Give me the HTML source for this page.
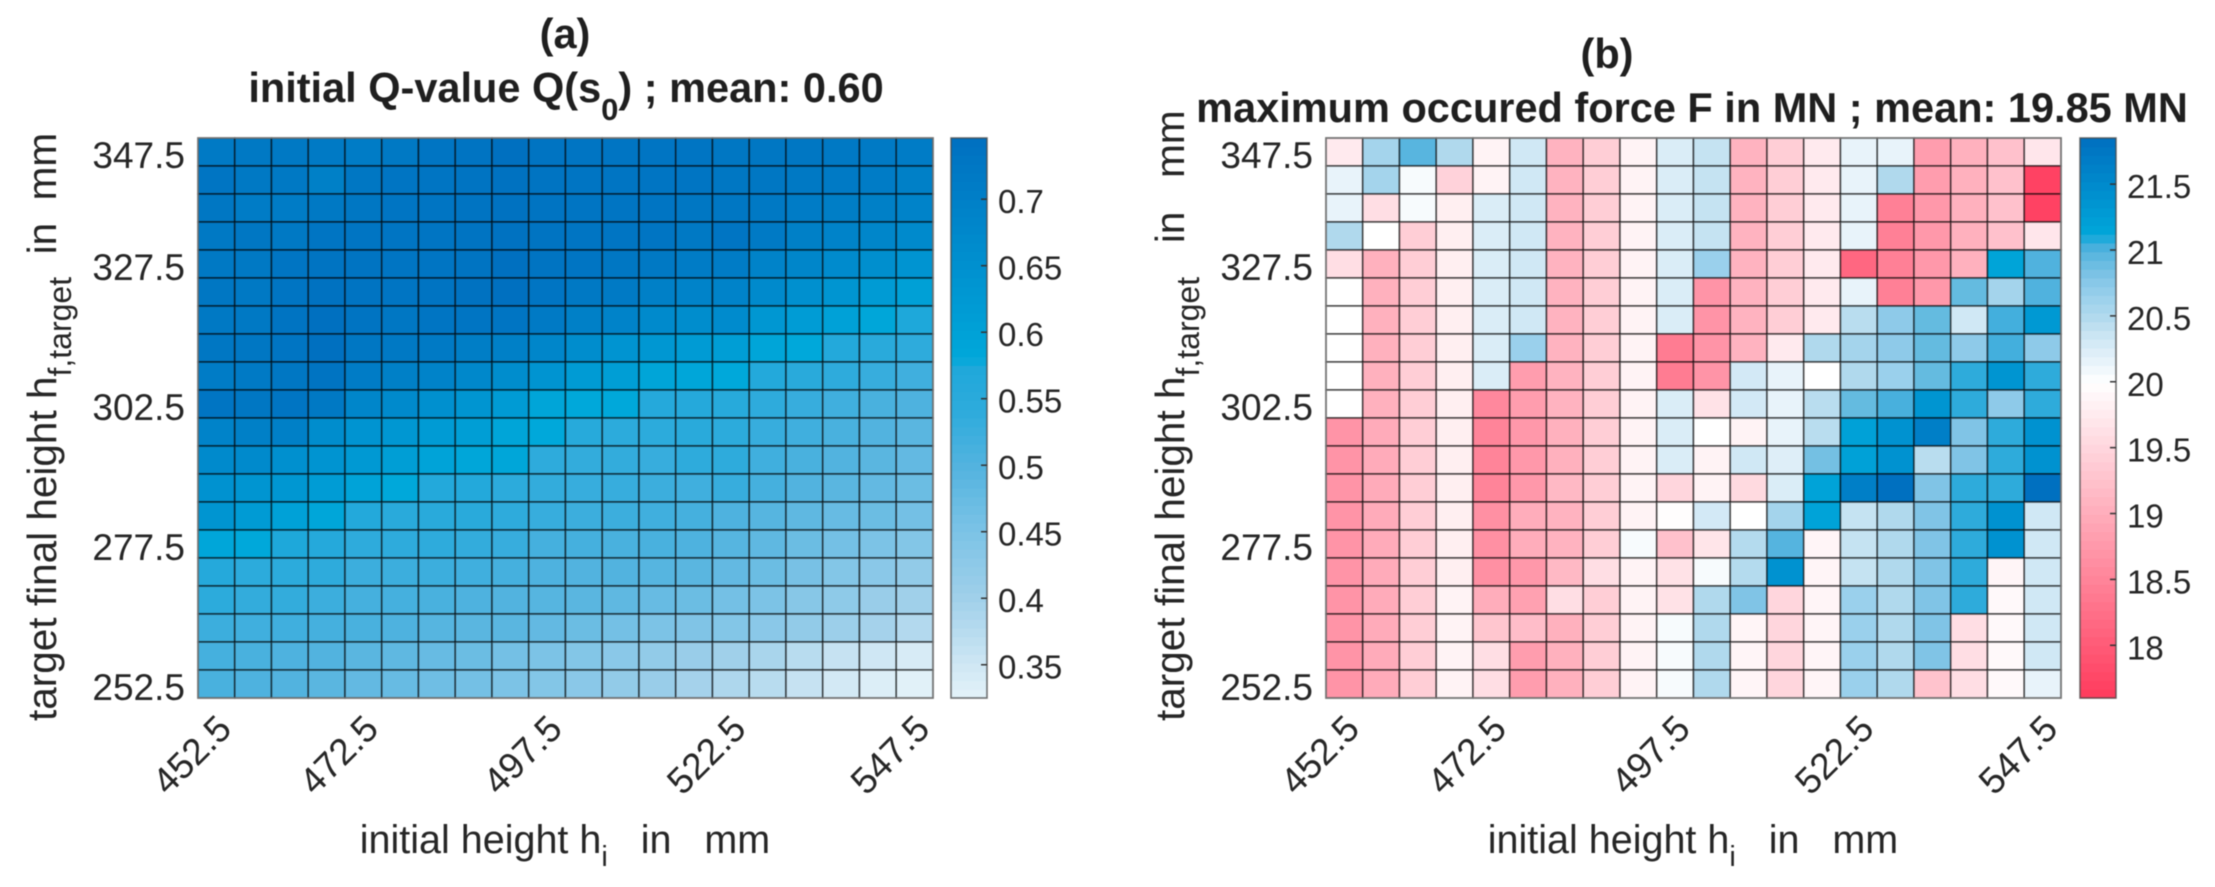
<!DOCTYPE html>
<html lang="en">
<head>
<meta charset="utf-8">
<title>Q-value and maximum force heatmaps</title>
<style>
html,body{margin:0;padding:0;background:#fff;width:2215px;height:887px;overflow:hidden}
svg{display:block;filter:blur(0.5px)}
text{font-family:"Liberation Sans",Arial,sans-serif;fill:#262626}
.tt{font-weight:bold;font-size:41.5px;fill:#1f1f1f}
.tick{font-size:37px}
.cbt{font-size:33px}
.lab{font-size:39.5px}
.laby{font-size:40.5px}
</style>
</head>
<body>
<svg id="fig" xmlns="http://www.w3.org/2000/svg" width="2215" height="887" viewBox="0 0 2215 887">
  <rect x="0" y="0" width="2215" height="887" fill="#fff"/>

  <text class="tt" x="565" y="48" text-anchor="middle">(a)</text>
  <text class="tt" x="566" y="102" text-anchor="middle">initial Q-value Q(s<tspan dy="18" font-size="31">0</tspan><tspan dy="-18">) ; mean: 0.60</tspan></text>

  <text class="tt" x="1607" y="68" text-anchor="middle">(b)</text>
  <text class="tt" x="1692" y="122" text-anchor="middle">maximum occured force F in MN ; mean: 19.85 MN</text>

  <text class="lab" x="565" y="853" text-anchor="middle" xml:space="preserve">initial height h<tspan dy="13" font-size="29">i</tspan><tspan dy="-13">   in   mm</tspan></text>
  <text class="lab" x="1693" y="853" text-anchor="middle" xml:space="preserve">initial height h<tspan dy="13" font-size="29">i</tspan><tspan dy="-13">   in   mm</tspan></text>

  <text class="laby" transform="translate(56,721) rotate(-90)" xml:space="preserve">target final height h<tspan dy="15" font-size="32">f,target</tspan><tspan dy="-15">  in  mm</tspan></text>
  <text class="laby" transform="translate(1184,721) rotate(-90)" xml:space="preserve">target final height h<tspan dy="15" font-size="32">f,target</tspan><tspan dy="-15">   in   mm</tspan></text>

  <g id="panelA"></g>
  <g id="panelB"></g>
</svg>

<script>
const xTickLabels = ["452.5","472.5","497.5","522.5","547.5"];
const xTickIndex = [0,4,9,14,19];
const yTickLabels = ["347.5","327.5","302.5","277.5","252.5"];
const yTickIndex = [0,4,9,14,19];

const qTicks = [0.7,0.65,0.6,0.55,0.5,0.45,0.4,0.35];
const qTickLabels = ["0.7","0.65","0.6","0.55","0.5","0.45","0.4","0.35"];
const forceTicks = [21.5,21,20.5,20,19.5,19,18.5,18];
const forceTickLabels = ["21.5","21","20.5","20","19.5","19","18.5","18"];

const qRange = [0.325,0.746];
const forceRange = [17.6,21.85];

const qValues = [
[.715,.72,.72,.715,.71,.72,.73,.735,.745,.735,.73,.73,.73,.73,.725,.725,.725,.72,.715,.71],
[.73,.72,.72,.70,.725,.73,.73,.735,.74,.735,.73,.73,.73,.73,.725,.725,.72,.715,.71,.70],
[.725,.71,.71,.72,.725,.73,.73,.735,.74,.735,.73,.73,.73,.725,.725,.72,.71,.705,.70,.69],
[.72,.725,.72,.73,.73,.73,.73,.735,.74,.735,.73,.73,.73,.72,.73,.715,.70,.69,.68,.67],
[.72,.72,.73,.735,.735,.73,.73,.735,.745,.735,.73,.725,.72,.71,.71,.69,.68,.665,.655,.64],
[.725,.72,.73,.74,.735,.73,.735,.74,.745,.73,.72,.715,.70,.69,.69,.67,.65,.635,.62,.605],
[.72,.72,.735,.745,.735,.725,.73,.73,.73,.715,.70,.69,.67,.66,.665,.63,.615,.60,.585,.575],
[.725,.725,.73,.745,.725,.72,.715,.705,.70,.68,.66,.64,.63,.62,.61,.59,.58,.565,.55,.54],
[.71,.715,.725,.735,.71,.70,.69,.675,.66,.64,.62,.61,.59,.585,.58,.565,.55,.54,.53,.52],
[.73,.725,.73,.72,.68,.67,.65,.635,.62,.59,.58,.58,.56,.56,.555,.54,.53,.52,.51,.505],
[.69,.70,.70,.66,.64,.63,.62,.61,.59,.58,.555,.545,.545,.55,.545,.53,.52,.51,.50,.49],
[.67,.67,.65,.64,.625,.61,.595,.585,.585,.54,.535,.535,.53,.54,.54,.52,.51,.50,.49,.48],
[.645,.635,.63,.615,.595,.58,.565,.565,.545,.535,.53,.53,.525,.52,.53,.515,.50,.49,.48,.47],
[.635,.62,.60,.585,.565,.55,.55,.55,.54,.53,.525,.525,.52,.515,.505,.495,.485,.475,.47,.46],
[.585,.58,.575,.56,.54,.54,.54,.535,.53,.515,.515,.51,.51,.505,.495,.485,.47,.46,.45,.44],
[.56,.545,.545,.54,.525,.525,.525,.52,.515,.505,.50,.50,.495,.49,.48,.47,.455,.44,.43,.42],
[.545,.535,.535,.525,.515,.515,.51,.505,.50,.495,.49,.485,.475,.47,.46,.45,.435,.425,.41,.40],
[.525,.52,.52,.515,.51,.505,.495,.49,.49,.48,.47,.46,.45,.445,.44,.43,.42,.405,.395,.38],
[.515,.51,.505,.50,.49,.485,.475,.47,.46,.45,.44,.43,.42,.41,.40,.39,.375,.36,.35,.34],
[.51,.505,.50,.49,.48,.475,.465,.46,.45,.44,.43,.42,.41,.395,.385,.375,.36,.345,.335,.328]
];

const forceValues = [
[19.75,20.58,20.97,20.5,19.85,20.32,19.07,19.4,19.85,20.25,20.38,19.07,19.4,19.75,20.15,20.15,18.8,19.05,19.25,19.7],
[20.15,20.58,20.05,19.45,19.85,20.32,19.07,19.4,19.85,20.25,20.38,19.07,19.4,19.75,20.15,20.5,18.8,19.05,19.25,17.7],
[20.15,19.6,20.05,19.8,20.25,20.32,19.07,19.4,19.85,20.25,20.38,19.07,19.4,19.75,20.15,18.45,18.75,19.05,19.25,17.7],
[20.5,20,19.4,19.8,20.25,20.32,19.07,19.4,19.85,20.25,20.38,19.07,19.4,19.75,20.15,18.45,18.75,19.05,19.25,19.7],
[19.6,19.05,19.4,19.8,20.25,20.32,19.07,19.4,19.85,20.25,20.65,19.07,19.4,19.75,18.15,18.45,18.75,19.05,21.15,21.0],
[20,19.05,19.4,19.8,20.25,20.32,19.07,19.4,19.85,20.25,18.7,19.07,19.4,19.75,20.15,18.45,18.75,20.92,20.58,21.0],
[20,19.05,19.4,19.8,20.25,20.32,19.07,19.4,19.85,20.25,18.7,19.07,19.4,19.75,20.45,20.72,20.92,20.32,21.03,21.3],
[20,19.05,19.4,19.8,20.25,20.65,19.07,19.4,19.85,18.4,18.7,19.07,19.75,20.5,20.58,20.72,20.92,20.72,21.03,20.72],
[20,19.05,19.4,19.8,20.25,18.8,19.07,19.4,19.85,18.4,18.7,20.3,20.15,20,20.5,20.65,20.92,21.08,21.35,21.08],
[20,19.05,19.4,19.8,18.55,18.8,19.07,19.4,19.85,20.25,19.65,20.3,20.15,20.45,20.92,21.02,21.35,21.08,20.72,21.08],
[18.7,18.98,19.4,19.8,18.5,18.75,19.05,19.4,19.85,20.25,20,19.85,20.15,20.45,21.2,21.4,21.65,20.8,21.08,21.4],
[18.7,18.98,19.4,19.8,18.5,18.75,19.05,19.4,19.85,20.25,19.85,20.32,20.22,20.85,21.2,21.4,20.45,20.8,21.08,21.4],
[18.7,18.98,19.4,19.8,18.5,18.75,19.15,19.4,19.85,19.5,19.85,19.55,20.25,21.17,21.65,21.85,20.8,21.08,21.08,21.85],
[18.7,18.98,19.4,19.8,18.65,19.0,19.07,19.4,19.85,19.97,20.3,20,20.58,21.17,20.38,20.5,20.8,21.08,21.4,20.32],
[18.7,18.98,19.4,19.8,18.65,19.0,19.07,19.4,20.05,19.25,19.68,20.48,20.98,19.88,20.38,20.5,20.8,21.08,21.4,20.32],
[18.7,18.98,19.4,19.8,18.65,18.75,19.15,19.6,19.85,19.65,20.05,20.48,21.4,19.88,20.38,20.5,20.8,21.08,19.88,20.32],
[18.7,18.98,19.4,19.85,19.0,18.85,19.6,19.4,19.85,19.65,20.5,20.8,19.5,19.88,20.65,20.5,20.8,21.08,19.93,20.32],
[18.7,18.98,19.4,19.85,19.3,19.2,19.05,19.4,19.85,20.05,20.5,19.88,19.5,19.88,20.65,20.5,20.8,19.6,19.93,20.32],
[18.7,18.98,19.4,19.85,19.6,18.8,19.05,19.4,19.85,20.05,20.5,19.88,19.5,19.88,20.65,20.5,20.8,19.6,19.93,20.32],
[18.7,18.98,19.4,19.85,19.6,18.8,19.05,19.4,19.85,20.05,20.5,19.88,19.5,19.88,20.65,20.5,19.27,19.6,19.93,20.15]
];

const qStopValues = [0.325,0.35,0.40,0.45,0.50,0.54,0.575,0.58,0.746];
const qStopColors = ["#e4f2f9","#cfe7f4","#a0d0ea","#7cc3e6","#52b3df","#2eabdc","#1ea8da","#00a8da","#0070c0"];
const forceStopValues = [17.6,20,20.15,20.32,20.5,20.65,20.8,20.92,21.0,21.08,21.1,21.85];
const forceStopColors = ["#ff3a5c","#ffffff","#e8f3fa","#d0e8f5","#b0d9ed","#9ad0ec","#80c4e6","#64bbe0","#50b2de","#2eabdb","#00a8da","#0070c0"];

const NS = "http://www.w3.org/2000/svg";
const plotTop = 138, plotBottom = 698, plotWidth = 735;

function hexToRgb(h){return [parseInt(h.slice(1,3),16),parseInt(h.slice(3,5),16),parseInt(h.slice(5,7),16)];}
function colorOf(v,sv,sc){
  if(v<=sv[0])return sc[0];
  for(let i=1;i<sv.length;i++){
    if(v<=sv[i]){
      const t=(v-sv[i-1])/(sv[i]-sv[i-1]);
      const a=hexToRgb(sc[i-1]),b=hexToRgb(sc[i]);
      return "rgb("+a.map((c,k)=>Math.round(c+(b[k]-c)*t)).join(",")+")";
    }
  }
  return sc[sc.length-1];
}
function el(tag,parent){const e=document.createElementNS(NS,tag);parent.appendChild(e);return e;}

function drawPanel(root,left,cbLeft,cbWidth,cbLabelX,values,range,sv,sc,ticks,tickLabels){
  const rows=values.length,cols=values[0].length;
  const xScale=i=>left+i*plotWidth/cols;
  const yScale=j=>plotTop+j*(plotBottom-plotTop)/rows;
  const cbScale=v=>plotBottom-(v-range[0])/(range[1]-range[0])*(plotBottom-plotTop);

  for(let j=0;j<rows;j++){
    for(let i=0;i<cols;i++){
      const c=el("rect",root);
      
      
      c.setAttribute("x",xScale(i));
      c.setAttribute("y",yScale(j));
      c.setAttribute("width",xScale(i+1)-xScale(i));
      c.setAttribute("height",yScale(j+1)-yScale(j));
      c.setAttribute("fill",colorOf(values[j][i],sv,sc));
      c.setAttribute("stroke","#000");
      c.setAttribute("stroke-opacity","0.58");
      c.setAttribute("stroke-width","1.6");
    }
  }
  const frame=el("rect",root);
  
  
  frame.setAttribute("x",left);
  frame.setAttribute("y",plotTop);
  frame.setAttribute("width",plotWidth);
  frame.setAttribute("height",plotBottom-plotTop);
  frame.setAttribute("fill","none");
  frame.setAttribute("stroke","#777");
  frame.setAttribute("stroke-width","1.5");

  yTickLabels.forEach((t,k)=>{
    const e=el("text",root);
    
    
    e.setAttribute("class","tick");
    e.setAttribute("x",left-13);
    e.setAttribute("y",yScale(yTickIndex[k]+0.5)+16);
    e.setAttribute("text-anchor","end");
    e.textContent=t;
  });
  xTickLabels.forEach((t,k)=>{
    const e=el("text",root);
    
    
    e.setAttribute("class","tick");
    e.setAttribute("text-anchor","end");
    e.setAttribute("transform","translate("+(xScale(xTickIndex[k]+0.5)+17)+",731) rotate(-45)");
    e.textContent=t;
  });

  const bands=64;
  for(let b=0;b<bands;b++){
    const v0=range[0]+(range[1]-range[0])*b/bands;
    const v1=range[0]+(range[1]-range[0])*(b+1)/bands;
    const r=el("rect",root);
    
    
    r.setAttribute("x",cbLeft);
    r.setAttribute("y",cbScale(v1));
    r.setAttribute("width",cbWidth);
    r.setAttribute("height",cbScale(v0)-cbScale(v1)+0.5);
    r.setAttribute("fill",colorOf((v0+v1)/2,sv,sc));
  }
  const cf=el("rect",root);
  
  
  cf.setAttribute("x",cbLeft);
  cf.setAttribute("y",plotTop);
  cf.setAttribute("width",cbWidth);
  cf.setAttribute("height",plotBottom-plotTop);
  cf.setAttribute("fill","none");
  cf.setAttribute("stroke","#444");
  cf.setAttribute("stroke-opacity","0.75");
  cf.setAttribute("stroke-width","1.6");

  ticks.forEach((v,k)=>{
    const m=el("line",root);
    
    
    m.setAttribute("x1",cbLeft+cbWidth-6);
    m.setAttribute("x2",cbLeft+cbWidth);
    m.setAttribute("y1",cbScale(v));
    m.setAttribute("y2",cbScale(v));
    m.setAttribute("stroke","#333");
    m.setAttribute("stroke-width","1.5");
    const e=el("text",root);
    
    
    e.setAttribute("class","cbt");
    e.setAttribute("x",cbLabelX);
    e.setAttribute("y",cbScale(v)+14);
    e.textContent=tickLabels[k];
  });
}

drawPanel(document.getElementById("panelA"),198,951,36,998,qValues,qRange,qStopValues,qStopColors,qTicks,qTickLabels);
drawPanel(document.getElementById("panelB"),1326,2080,36,2127,forceValues,forceRange,forceStopValues,forceStopColors,forceTicks,forceTickLabels);
</script>
</body>
</html>
